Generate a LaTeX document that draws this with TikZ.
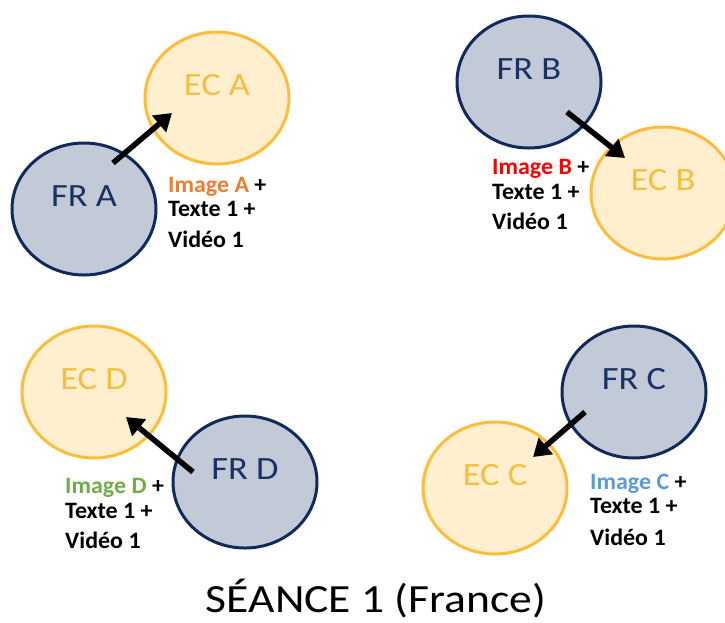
\documentclass[tikz,border=0pt]{standalone}
\usepackage{fontspec}
\setmainfont{Carlito}
\usetikzlibrary{shapes.geometric,arrows.meta}
\definecolor{frfill}{HTML}{C2CAD8}
\definecolor{frdraw}{HTML}{12295C}
\definecolor{frtext}{HTML}{1A3263}
\definecolor{ecfill}{HTML}{FFEFCF}
\definecolor{ecdraw}{HTML}{FDBC3A}
\definecolor{ectext}{HTML}{F2C03E}
\definecolor{imgA}{HTML}{ED7D31}
\definecolor{imgB}{HTML}{FF0000}
\definecolor{imgC}{HTML}{5B9BD5}
\definecolor{imgD}{HTML}{70AD47}
\tikzset{
  blob/.style={ellipse, minimum width=144pt, minimum height=132pt, inner sep=0pt, line width=3pt},
  frblob/.style={blob, draw=frdraw, fill=frfill},
  ecblob/.style={blob, draw=ecdraw, fill=ecfill},
  frlab/.style={anchor=base, text=frtext, font=\fontsize{32.5}{36}\selectfont, inner sep=0pt, xscale=1.12},
  eclab/.style={anchor=base, text=ectext, font=\fontsize{32.5}{36}\selectfont, inner sep=0pt, xscale=1.12},
  info/.style={anchor=base west, font=\bfseries\fontsize{23.5}{28}\selectfont, inner sep=0pt, xscale=1.02},
  arr/.style={line width=5.5pt, -{Triangle[length=17pt,width=21pt]}}
}
\begin{document}
\begin{tikzpicture}[x=1pt,y=-1pt]
\useasboundingbox (0,0) rectangle (725,622);
% A
\node[ecblob] (ecA) at (217,98) {};
\node[frblob] (frA) at (84,209) {};
\node[eclab] (ecAt) at ([yshift=3pt]ecA.center) {EC A};
\node[frlab] (frAt) at ([yshift=3pt]frA.center) {FR A};
\draw[arr] ([shift={(29,-46)}]frA.center) -- ([shift={(-45,15)}]ecA.center);
\node[info] (tA1) at (168,192) {\textcolor{imgA}{Image A} +};
\node[info] (tA2) at (168,216.5) {Texte 1 +};
\node[info] (tA3) at (168,247) {Vidéo 1};
% B
\node[frblob] (frB) at (529,82) {};
\node[ecblob] (ecB) at (663,193) {};
\node[frlab] (frBt) at ([yshift=3pt]frB.center) {FR B};
\node[eclab] (ecBt) at ([yshift=3pt]ecB.center) {EC B};
\draw[arr] ([shift={(38,30)}]frB.center) -- ([shift={(-38,-35)}]ecB.center);
\node[info] (tB1) at (492,174) {\textcolor{imgB}{Image B} +};
\node[info] (tB2) at (492,199) {Texte 1 +};
\node[info] (tB3) at (492,229) {Vidéo 1};
% D
\node[ecblob] (ecD) at (94,392) {};
\node[frblob] (frD) at (245,482) {};
\node[eclab] (ecDt) at ([yshift=3pt]ecD.center) {EC D};
\node[frlab] (frDt) at ([yshift=3pt]frD.center) {FR D};
\draw[arr] ([shift={(-52,-10)}]frD.center) -- ([shift={(32,25)}]ecD.center);
\node[info] (tD1) at (65,493) {\textcolor{imgD}{Image D} +};
\node[info] (tD2) at (65,518) {Texte 1 +};
\node[info] (tD3) at (65,548) {Vidéo 1};
% C
\node[frblob] (frC) at (634,392) {};
\node[ecblob] (ecC) at (495,488) {};
\node[frlab] (frCt) at ([yshift=3pt]frC.center) {FR C};
\node[eclab] (ecCt) at ([yshift=3pt]ecC.center) {EC C};
\draw[arr] ([shift={(-49,20)}]frC.center) -- ([shift={(38,-31)}]ecC.center);
\node[info] (tC1) at (590,489) {\textcolor{imgC}{Image C} +};
\node[info] (tC2) at (590,513) {Texte 1 +};
\node[info] (tC3) at (590,545) {Vidéo 1};
% title
\node[anchor=base, font=\fontsize{40}{44}\selectfont, inner sep=0pt, xscale=1.14] (title) at (376,612) {SÉANCE 1 (France)};
\end{tikzpicture}
\end{document}
